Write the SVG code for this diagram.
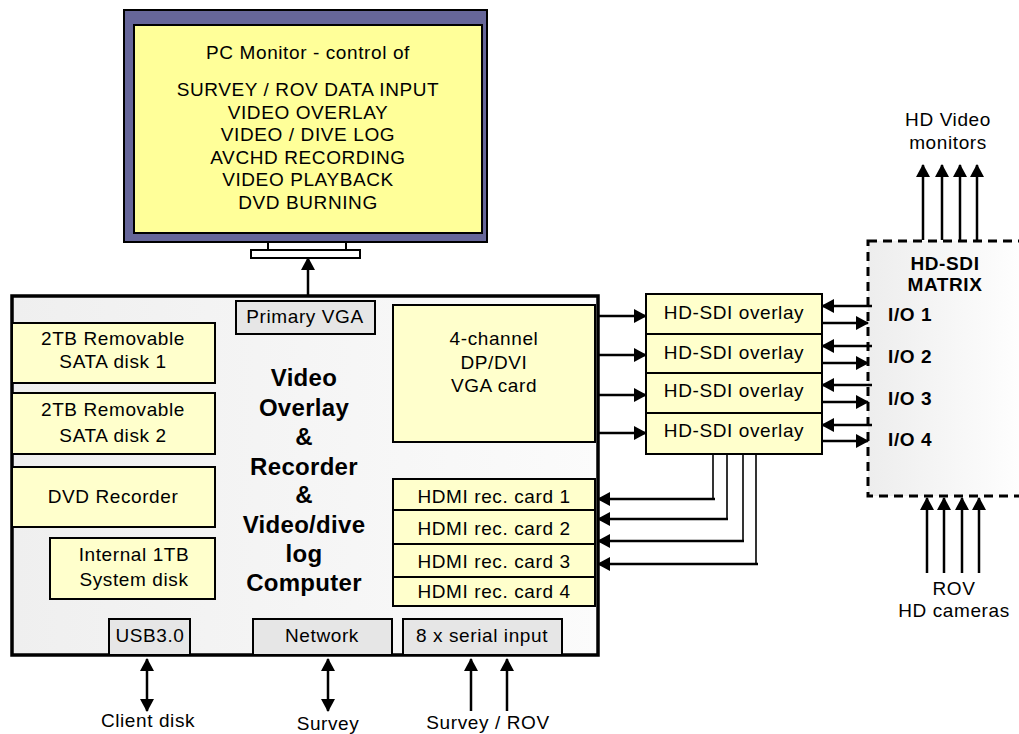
<svg xmlns="http://www.w3.org/2000/svg" width="1019" height="734" viewBox="0 0 1019 734">
<style>
text{font-family:"Liberation Sans",Arial,sans-serif;font-size:19px;fill:#000;letter-spacing:0.6px}
.c{text-anchor:middle}
.b{font-weight:bold}
.big{font-size:24px;font-weight:bold;letter-spacing:0.3px}
.y{fill:#ffffcc;stroke:#000;stroke-width:2}
.g{fill:#e6e6e6;stroke:#000;stroke-width:2}
.w{fill:#fff;stroke:#000;stroke-width:2}
.ln{stroke:#000;stroke-width:2.5;fill:none}
.th{stroke:#000;stroke-width:1.6;fill:none}
.a{marker-end:url(#ah)}
.d{marker-start:url(#ah);marker-end:url(#ah)}
</style>
<defs>
<marker id="ah" markerUnits="userSpaceOnUse" markerWidth="13" markerHeight="14" refX="12" refY="7" orient="auto-start-reverse" viewBox="0 0 13 14"><path d="M0,0 L13,7 L0,14 z" fill="#000"/></marker>
<linearGradient id="cg" x1="0" y1="0" x2="1" y2="0"><stop offset="0" stop-color="#efefef"/><stop offset="1" stop-color="#fbfbfb"/></linearGradient>
<linearGradient id="mg" x1="0" y1="0" x2="1" y2="0"><stop offset="0" stop-color="#ededed"/><stop offset="1" stop-color="#ffffff"/></linearGradient>
</defs>

<g id="monitor">
<rect x="124" y="10" width="363" height="232" fill="#666699" stroke="#000" stroke-width="2"/>
<rect x="134" y="25" width="348" height="208" fill="#ffff99" stroke="#000" stroke-width="2"/>
<rect x="268" y="242" width="78" height="8" class="w"/>
<rect x="251" y="250" width="109" height="8" class="w"/>
<text x="308" y="59" class="c">PC Monitor - control of</text>
<text x="308" y="96" class="c">SURVEY / ROV DATA INPUT</text>
<text x="308" y="119" class="c">VIDEO OVERLAY</text>
<text x="308" y="141" class="c">VIDEO / DIVE LOG</text>
<text x="308" y="164" class="c">AVCHD RECORDING</text>
<text x="308" y="186" class="c">VIDEO PLAYBACK</text>
<text x="308" y="209" class="c">DVD  BURNING</text>
</g>

<g id="computer">
<rect x="12" y="296" width="586" height="359" fill="url(#cg)" stroke="#000" stroke-width="3.5"/>
<text x="304" y="386" class="c big">Video</text>
<text x="304" y="416" class="c big">Overlay</text>
<text x="304" y="445" class="c big">&amp;</text>
<text x="304" y="475" class="c big">Recorder</text>
<text x="304" y="503" class="c big">&amp;</text>
<text x="304" y="533" class="c big">Video/dive</text>
<text x="304" y="562" class="c big">log</text>
<text x="304" y="591" class="c big">Computer</text>
</g>
<g id="primary-vga"><rect x="236" y="301" width="139" height="33" class="g"/><text x="305" y="323" class="c">Primary VGA</text></g>
<g id="disk1"><rect x="12" y="323" width="203" height="60" class="y"/><text x="113" y="345" class="c">2TB Removable</text><text x="113" y="368" class="c">SATA disk 1</text></g>
<g id="disk2"><rect x="12" y="393" width="203" height="61" class="y"/><text x="113" y="416" class="c">2TB Removable</text><text x="113" y="442" class="c">SATA disk 2</text></g>
<g id="dvd"><rect x="12" y="467" width="203" height="60" class="y"/><text x="113" y="503" class="c">DVD Recorder</text></g>
<g id="sysdisk"><rect x="50" y="538" width="165" height="61" class="y"/><text x="134" y="561" class="c">Internal 1TB</text><text x="134" y="586" class="c">System disk</text></g>
<g id="usb"><rect x="109" y="619" width="81" height="36" class="g"/><text x="150" y="642" class="c">USB3.0</text></g>
<g id="network"><rect x="253" y="619" width="139" height="36" class="g"/><text x="322" y="642" class="c">Network</text></g>
<g id="serial"><rect x="403" y="619" width="159" height="36" class="g"/><text x="482" y="642" class="c">8 x serial input</text></g>
<g id="vga-card"><rect x="393" y="305" width="202" height="137" class="y"/><text x="494" y="345" class="c">4-channel</text><text x="494" y="369" class="c">DP/DVI</text><text x="494" y="392" class="c">VGA card</text></g>
<g id="hdmi1"><rect x="393" y="479" width="202" height="31" class="y"/><text x="494" y="503" class="c">HDMI rec. card 1</text></g>
<g id="hdmi2"><rect x="393" y="510" width="202" height="34" class="y"/><text x="494" y="535" class="c">HDMI rec. card 2</text></g>
<g id="hdmi3"><rect x="393" y="544" width="202" height="33" class="y"/><text x="494" y="568" class="c">HDMI rec. card 3</text></g>
<g id="hdmi4"><rect x="393" y="577" width="202" height="29" class="y"/><text x="494" y="598" class="c">HDMI rec. card 4</text></g>

<g id="overlay1"><rect x="646" y="294" width="176" height="40" class="y"/><text x="734" y="319" class="c">HD-SDI overlay</text></g>
<g id="overlay2"><rect x="646" y="334" width="176" height="39" class="y"/><text x="734" y="359" class="c">HD-SDI overlay</text></g>
<g id="overlay3"><rect x="646" y="373" width="176" height="40" class="y"/><text x="734" y="397" class="c">HD-SDI overlay</text></g>
<g id="overlay4"><rect x="646" y="413" width="176" height="41" class="y"/><text x="734" y="437" class="c">HD-SDI overlay</text></g>

<g id="matrix">
<rect x="868" y="241" width="160" height="255" fill="url(#mg)" stroke="#000" stroke-width="3" stroke-dasharray="9,6"/>
<text x="945" y="270" class="c b">HD-SDI</text>
<text x="945" y="291" class="c b">MATRIX</text>
<text x="888" y="321" class="b">I/O 1</text>
<text x="888" y="363" class="b">I/O 2</text>
<text x="888" y="405" class="b">I/O 3</text>
<text x="888" y="446" class="b">I/O 4</text>
</g>

<g id="labels">
<text x="948" y="126" class="c">HD Video</text>
<text x="948" y="149" class="c">monitors</text>
<text x="954" y="595" class="c">ROV</text>
<text x="954" y="617" class="c">HD cameras</text>
<text x="148" y="727" class="c">Client disk</text>
<text x="328" y="730" class="c">Survey</text>
<text x="488" y="729" class="c">Survey / ROV</text>
</g>

<g id="connectors">
<line x1="308" y1="296" x2="308" y2="258" class="ln a"/>
<line x1="598" y1="316" x2="646" y2="316" class="ln a"/>
<line x1="598" y1="355" x2="646" y2="355" class="ln a"/>
<line x1="598" y1="395" x2="646" y2="395" class="ln a"/>
<line x1="598" y1="433" x2="646" y2="433" class="ln a"/>
<line x1="872" y1="306" x2="822" y2="306" class="ln a"/>
<line x1="822" y1="323" x2="868" y2="323" class="ln a"/>
<line x1="872" y1="346" x2="822" y2="346" class="ln a"/>
<line x1="822" y1="363" x2="868" y2="363" class="ln a"/>
<line x1="872" y1="385" x2="822" y2="385" class="ln a"/>
<line x1="822" y1="402" x2="868" y2="402" class="ln a"/>
<line x1="872" y1="425" x2="822" y2="425" class="ln a"/>
<line x1="822" y1="441" x2="868" y2="441" class="ln a"/>
<line x1="923" y1="240" x2="923" y2="165" class="ln a"/>
<line x1="942" y1="240" x2="942" y2="165" class="ln a"/>
<line x1="960" y1="240" x2="960" y2="165" class="ln a"/>
<line x1="977" y1="240" x2="977" y2="165" class="ln a"/>
<line x1="927" y1="573" x2="927" y2="498" class="ln a"/>
<line x1="944" y1="573" x2="944" y2="498" class="ln a"/>
<line x1="962" y1="573" x2="962" y2="498" class="ln a"/>
<line x1="979" y1="573" x2="979" y2="498" class="ln a"/>
<polyline points="713,454 713,499" class="th"/>
<line x1="715" y1="499" x2="598" y2="499" class="ln a"/>
<polyline points="727,454 727,519" class="th"/>
<line x1="728" y1="519" x2="598" y2="519" class="ln a"/>
<polyline points="743,454 743,541" class="th"/>
<line x1="744" y1="541" x2="598" y2="541" class="ln a"/>
<polyline points="756,454 756,564" class="th"/>
<line x1="758" y1="564" x2="598" y2="564" class="ln a"/>
<line x1="147" y1="659" x2="147" y2="711" class="ln d"/>
<line x1="328" y1="659" x2="328" y2="711" class="ln d"/>
<line x1="471" y1="711" x2="471" y2="659" class="ln a"/>
<line x1="507" y1="711" x2="507" y2="659" class="ln a"/>
</g>
</svg>
